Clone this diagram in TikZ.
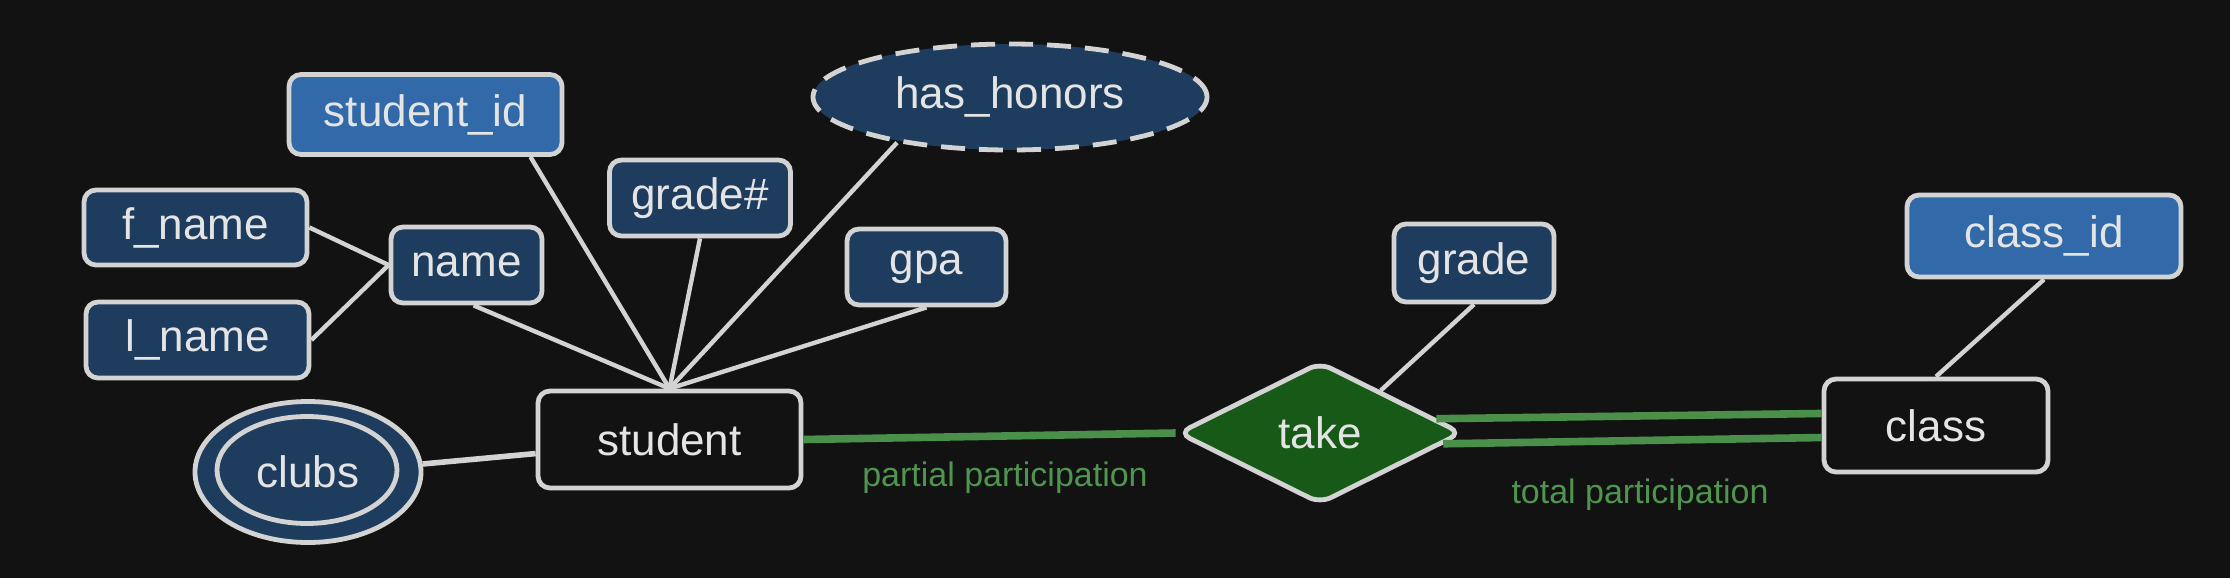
\documentclass[tikz,border=0pt]{standalone}
\usepackage{fontspec}
\setmainfont{Liberation Sans}
\usetikzlibrary{shapes.geometric}

\definecolor{bgc}{HTML}{121212}
\definecolor{edgec}{HTML}{D3D3D3}
\definecolor{txtc}{HTML}{E4E4E4}
\definecolor{attrc}{HTML}{1E3D5E}
\definecolor{keyc}{HTML}{3169A9}
\definecolor{relc}{HTML}{175A17}
\definecolor{partc}{HTML}{4A8F4A}
\definecolor{lblc}{HTML}{4F9550}

\begin{document}
\begin{tikzpicture}[x=0.5pt,y=-0.5pt,
	attr/.style={draw=edgec,line width=2.4pt,rounded corners=6pt,fill=attrc,text=txtc,
		inner sep=0pt,font=\fontsize{22}{26}\selectfont},
	keyattr/.style={attr,fill=keyc},
	entity/.style={attr,fill=bgc},
	multi/.style={attr,ellipse,rounded corners=0pt},
	derived/.style={multi,dash pattern=on 12pt off 7pt},
	rel/.style={attr,diamond,rounded corners=6pt,fill=relc},
	link/.style={draw=edgec,line width=2.2pt},
	part/.style={draw=partc,line width=3.8pt},
	lbl/.style={text=lblc,font=\fontsize{17}{20}\selectfont}]

\fill[bgc] (0,0) rectangle (2230,578);
\useasboundingbox (0,0) rectangle (2230,578);

% student side
\node[keyattr,minimum width=136.5pt,minimum height=40pt] (student_id) at (425.5,114.5) {student\_id};
\node[derived,minimum width=197pt,minimum height=53pt] (has_honors) at (1010,97) {has\_honors};
\node[attr,minimum width=90.5pt,minimum height=38pt] (gradenum) at (700,198) {grade\#};
\node[attr,minimum width=111.5pt,minimum height=37.5pt] (f_name) at (195.5,227.5) {f\_name};
\node[attr,minimum width=111.5pt,minimum height=38pt] (l_name) at (197.5,340) {l\_name};
\node[attr,minimum width=75.5pt,minimum height=38pt] (name) at (466.5,265) {name};
\node[attr,minimum width=79.5pt,minimum height=38pt] (gpa) at (926.5,267) {gpa};
\node[entity,minimum width=131.5pt,minimum height=48.5pt] (student) at (669.5,439.5) {student};
\node[multi,minimum width=113pt,minimum height=70.5pt] (clubs) at (308,472) {clubs};
\node[multi,fill=none,minimum width=90pt,minimum height=53.5pt] (clubsin) at (307,470) {};

% relationship and class side
\node[rel,minimum width=142pt,minimum height=71pt] (take) at (1320,433) {take};
\node[attr,minimum width=80pt,minimum height=39pt] (grade) at (1474,263) {grade};
\node[keyattr,minimum width=137pt,minimum height=41pt] (class_id) at (2044,236) {class\_id};
\node[entity,minimum width=112pt,minimum height=46.5pt] (class) at (1936,425.5) {class};

\draw[link] (f_name.east)--(name.west);
\draw[link] (l_name.east)--(name.west);
\draw[link] (student_id.-22)--(student.north);
\draw[link] (gradenum.south)--(student.north);
\draw[link] (has_honors.-158)--(student.north);
\draw[link] (gpa.south)--(student.north);
\draw[link] (name.-80)--(student.north);
\draw[link,line width=2.8pt] (clubs.4)--(student.186);
\draw[link] (grade.south)--(take.35);
\draw[link] (class_id.south)--(class.north);

\draw[part] (student.east)--(take.west);
\draw[part] (take.7)--(class.174);
\draw[part] (take.-5)--(class.186);

\node[lbl] (partial) at (1005,478) {partial participation};
\node[lbl] (total) at (1640,495) {total participation};

\end{tikzpicture}
\end{document}
